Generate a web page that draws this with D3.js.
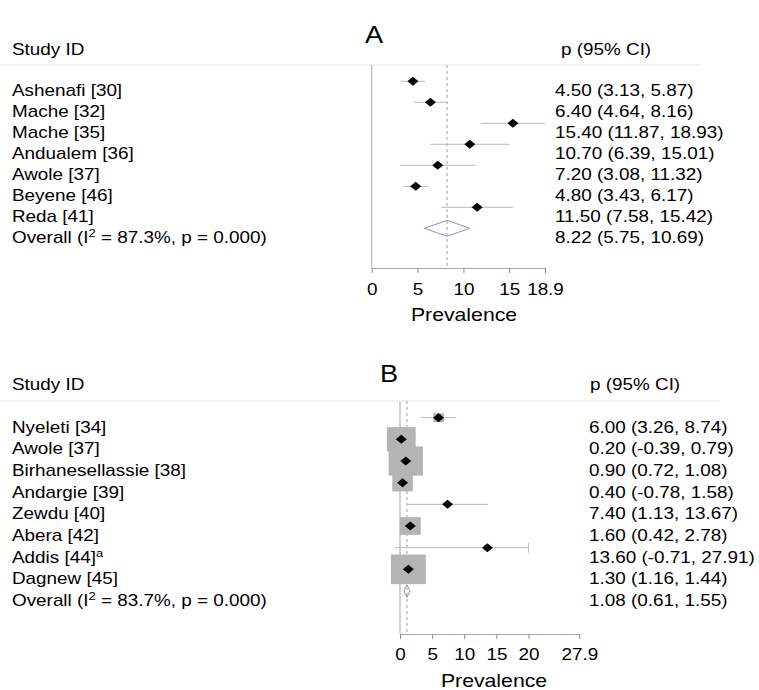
<!DOCTYPE html>
<html>
<head>
<meta charset="utf-8">
<script src="https://cdn.jsdelivr.net/npm/d3@7"></script>
<style>
body { margin: 0; background: #fff; }
svg text { font-family: "Liberation Sans", Arial, Helvetica, sans-serif; fill: #000; }
</style>
</head>
<body>
<div id="chart"></div>
<script>
// ---- panel A data ----
var studiesA = ["Ashenafi [30]", "Mache [32]", "Mache [35]", "Andualem [36]", "Awole [37]", "Beyene [46]", "Reda [41]"];
var estA = [4.50, 6.40, 15.40, 10.70, 7.20, 4.80, 11.50];
var lowA = [3.13, 4.64, 11.87, 6.39, 3.08, 3.43, 7.58];
var highA = [5.87, 8.16, 18.93, 15.01, 11.32, 6.17, 15.42];
var overallA = [8.22, 5.75, 10.69];
var i2A = "87.3%";
var ticksA = [0, 5, 10, 15, 18.9];

// ---- panel B data ----
var studiesB = ["Nyeleti [34]", "Awole [37]", "Birhanesellassie [38]", "Andargie [39]", "Zewdu [40]", "Abera [42]", "Addis [44]", "Dagnew [45]"];
var noteB = ["", "", "", "", "", "", "a", ""];
var estB = [6.00, 0.20, 0.90, 0.40, 7.40, 1.60, 13.60, 1.30];
var lowB = [3.26, -0.39, 0.72, -0.78, 1.13, 0.42, -0.71, 1.16];
var highB = [8.74, 0.79, 1.08, 1.58, 13.67, 2.78, 27.91, 1.44];
var weightB = [2.7, 19.6, 28.0, 10.0, 0.4, 10.3, 0.1, 28.9];
var overallB = [1.08, 0.61, 1.55];
var i2B = "83.7%";
var ticksB = [0, 5, 10, 15, 20, 27.9];
var ciMaxB = 20;

var width = 759, height = 690;
var sx = 1.18; // the picture is a bit wider than tall

var svg = d3.select("#chart").append("svg")
    .attr("width", width)
    .attr("height", height);

// plain hyphen for negatives, like the original
var fmt = d3.formatLocale({decimal: ".", thousands: ",", grouping: [3], currency: ["", ""], minus: "-"}).format(".2f");

function place(sel, x, y) {
    return sel.attr("transform", "translate(" + x + "," + y + ") scale(" + sx + ",1)");
}

function drawPanel(p) {
    var g = svg.append("g");
    var n = p.names.length;

    var x = d3.scaleLinear()
        .domain([0, p.ticks[p.ticks.length - 1]])
        .range(p.xRange);

    var y = function(i) { return p.rowY0 + i * p.rowStep; };
    var yOverall = y(n);

    // panel letter
    place(g.append("text").text(p.letter).style("font-size", "23px"), p.letterX, p.letterY);

    // headers
    place(g.append("text").text("Study ID").style("font-size", "16px"), 12, p.headerY);
    place(g.append("text").text("p (95% CI)").style("font-size", "16px"), p.headX, p.headerY);

    g.append("line")
        .attr("x1", 0).attr("x2", p.lineX2)
        .attr("y1", p.lineY).attr("y2", p.lineY)
        .attr("stroke", "#e4e4e4");

    // null line at 0
    g.append("line")
        .attr("x1", x(0)).attr("x2", x(0))
        .attr("y1", p.lineY).attr("y2", p.axisY)
        .attr("stroke", "#c4c4c4")
        .attr("stroke-width", 1.5);

    // dashed overall line
    g.append("line")
        .attr("x1", x(p.overall[0])).attr("x2", x(p.overall[0]))
        .attr("y1", p.lineY).attr("y2", p.axisY)
        .attr("stroke", "#a0a0a0")
        .attr("stroke-dasharray", "3,3");

    var rows = d3.range(n);

    // weight boxes
    if (p.weights) {
        g.selectAll(".box")
            .data(rows)
            .enter().append("rect")
            .attr("class", "box")
            .attr("x", function(i) { return x(p.est[i]) - 3.25 * Math.sqrt(p.weights[i]); })
            .attr("y", function(i) { return y(i) - 3.25 * Math.sqrt(p.weights[i]) / sx; })
            .attr("width", function(i) { return 6.5 * Math.sqrt(p.weights[i]); })
            .attr("height", function(i) { return 6.5 * Math.sqrt(p.weights[i]) / sx; })
            .attr("fill", "#b4b4b4");
    }

    // confidence intervals
    g.selectAll(".ci")
        .data(rows)
        .enter().append("line")
        .attr("class", "ci")
        .attr("x1", function(i) { return x(p.low[i]); })
        .attr("x2", function(i) { return x(p.ciMax != null ? Math.min(p.high[i], p.ciMax) : p.high[i]); })
        .attr("y1", y).attr("y2", y)
        .attr("stroke", "#b8b8b8");

    if (p.ciMax != null) {
        g.selectAll(".cap")
            .data(rows.filter(function(i) { return p.high[i] > p.ciMax; }))
            .enter().append("line")
            .attr("class", "cap")
            .attr("x1", x(p.ciMax)).attr("x2", x(p.ciMax))
            .attr("y1", function(i) { return y(i) - 5; })
            .attr("y2", function(i) { return y(i) + 5; })
            .attr("stroke", "#b8b8b8");
    }

    // point estimates
    g.selectAll(".pt")
        .data(rows)
        .enter().append("path")
        .attr("class", "pt")
        .attr("d", function(i) {
            var cx = x(p.est[i]), cy = y(i);
            return "M" + (cx - 5.5) + "," + cy + "L" + cx + "," + (cy - 4.5) +
                "L" + (cx + 5.5) + "," + cy + "L" + cx + "," + (cy + 4.5) + "Z";
        })
        .attr("fill", "#000");

    // overall diamond
    g.append("polygon")
        .attr("points", [
            [x(p.overall[1]), yOverall],
            [x(p.overall[0]), yOverall - p.diamondH],
            [x(p.overall[2]), yOverall],
            [x(p.overall[0]), yOverall + p.diamondH]
        ].map(function(d) { return d.join(","); }).join(" "))
        .attr("fill", "none")
        .attr("stroke", "#9090d8");

    // study labels and estimates
    rows.forEach(function(i) {
        var t = place(g.append("text").style("font-size", "16px"), 12, y(i) + 15);
        t.append("tspan").text(p.names[i]);
        if (p.notes && p.notes[i]) {
            t.append("tspan").attr("dy", -6).style("font-size", "11px").text(p.notes[i]);
        }
        place(g.append("text").style("font-size", "16px"), p.valueX, y(i) + 15)
            .text(fmt(p.est[i]) + " (" + fmt(p.low[i]) + ", " + fmt(p.high[i]) + ")");
    });

    var ov = place(g.append("text").style("font-size", "16px"), 12, yOverall + 15);
    ov.append("tspan").text("Overall (I");
    ov.append("tspan").attr("dy", -6).style("font-size", "11px").text("2");
    ov.append("tspan").attr("dy", 6).text(" = " + p.i2 + ", p = 0.000)");

    place(g.append("text").style("font-size", "16px"), p.valueX, yOverall + 15)
        .text(fmt(p.overall[0]) + " (" + fmt(p.overall[1]) + ", " + fmt(p.overall[2]) + ")");

    // x axis
    var axis = g.append("g")
        .attr("transform", "translate(0," + p.axisY + ")")
        .call(d3.axisBottom(x)
            .tickValues(p.ticks)
            .tickSize(5)
            .tickSizeOuter(0)
            .tickFormat(function(d) { return d; }));

    axis.select(".domain").attr("stroke", "#a8a8a8");
    axis.selectAll(".tick line").attr("stroke", "#888");
    axis.selectAll(".tick text")
        .attr("y", null).attr("dy", null)
        .attr("transform", "translate(0," + p.tickLabelDy + ") scale(" + sx + ",1)")
        .style("font-size", "16px")
        .style("font-family", "\"Liberation Sans\", Arial, sans-serif")
        .attr("fill", "#000");

    place(g.append("text").text("Prevalence")
        .attr("text-anchor", "middle")
        .style("font-size", "18px"), p.labelX, p.labelY);
}

drawPanel({
    letter: "A", letterX: 365, letterY: 43,
    names: studiesA, est: estA, low: lowA, high: highA,
    overall: overallA, i2: i2A, ticks: ticksA,
    headerY: 55, headX: 561, lineY: 65, lineX2: 700,
    rowY0: 81.3, rowStep: 21,
    xRange: [371.7, 545], axisY: 268,
    valueX: 555, tickLabelDy: 27, labelX: 464, labelY: 321,
    diamondH: 8
});

drawPanel({
    letter: "B", letterX: 380, letterY: 382,
    names: studiesB, notes: noteB, est: estB, low: lowB, high: highB, weights: weightB,
    overall: overallB, i2: i2B, ticks: ticksB, ciMax: ciMaxB,
    headerY: 390, headX: 590, lineY: 401, lineX2: 720,
    rowY0: 417.7, rowStep: 21.66,
    xRange: [400, 579.3], axisY: 634,
    valueX: 589, tickLabelDy: 25.5, labelX: 494, labelY: 687,
    diamondH: 6.3
});
</script>
</body>
</html>
